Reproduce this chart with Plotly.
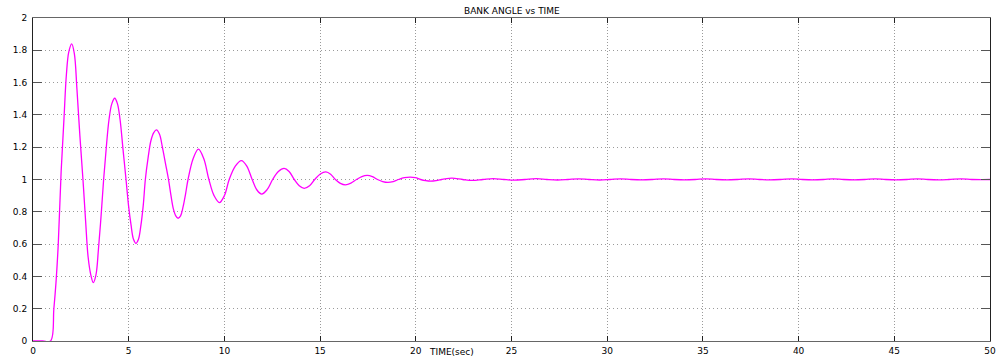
import plotly.graph_objects as go

# Time (sec) and bank angle readings
time_sec = [0, 0.5, 0.92, 1.09, 1.2, 1.32, 1.47, 1.62, 1.745, 1.87, 2.02,
            2.16, 2.295, 2.45, 2.61, 2.75, 2.88, 3.02, 3.15,
            3.29, 3.42, 3.56, 3.69, 3.83, 3.97, 4.12, 4.27,
            4.41, 4.55, 4.70, 4.86, 4.99, 5.12, 5.25, 5.38,
            5.51, 5.63, 5.76, 5.87, 6.02, 6.16, 6.31, 6.45,
            6.61, 6.76, 6.92, 7.08, 7.21, 7.33, 7.46, 7.58,
            7.71, 7.84, 7.97, 8.10, 8.37, 8.64,
            8.92, 9.19, 9.46, 9.74, 10.0, 10.25, 10.57, 10.89,
            11.17, 11.45, 11.7, 11.95, 12.23, 12.52, 12.82, 13.12,
            13.38, 13.65, 13.91, 14.17, 14.45, 14.72, 15.01, 15.30,
            15.55, 15.80, 16.06, 16.32, 16.61, 16.90, 17.18, 17.46,
            17.73, 18.00, 18.27, 18.54, 18.82, 19.10, 19.40, 19.71,
            19.98, 20.25, 20.51, 20.78, 21.06, 21.35, 21.62, 21.90,
            22.45, 22.95, 23.5, 24.05, 24.6, 25.15,
            25.7, 26.3, 26.85, 27.4, 27.95, 28.5, 29.05, 29.6, 30.15, 30.7,
            31.25, 31.8, 32.35, 32.95, 33.5, 34.05, 34.6, 35.15, 35.7, 36.25,
            36.8, 37.4, 37.95, 38.5, 39.05, 39.65, 40.2, 40.75, 41.3, 41.8,
            42.35, 42.9, 43.45, 44.0, 44.55, 45.1, 45.65, 46.2, 46.75, 47.3,
            47.85, 48.5, 49.05, 49.6, 50.0]
bank_angle = [0, 0, 0, 0.2, 0.36, 0.6, 1.05, 1.38, 1.65, 1.79, 1.84,
              1.78, 1.56, 1.27, 1.0, 0.74, 0.52, 0.41, 0.362,
              0.41, 0.57, 0.78, 1.0, 1.2, 1.37, 1.47, 1.503,
              1.47, 1.37, 1.19, 1.0, 0.84, 0.72, 0.63, 0.605,
              0.63, 0.71, 0.84, 1.0, 1.14, 1.24, 1.29, 1.307,
              1.28, 1.2, 1.1, 1.0, 0.9, 0.82, 0.775, 0.76,
              0.775, 0.83, 0.91, 1.0, 1.13, 1.188,
              1.13, 1.0, 0.9, 0.857, 0.9, 1.0, 1.083, 1.117,
              1.083, 1.0, 0.935, 0.91, 0.937, 1.0, 1.05, 1.069,
              1.05, 1.0, 0.961, 0.945, 0.961, 1.0, 1.034, 1.047,
              1.033, 1.0, 0.976, 0.967, 0.977, 1.0, 1.018, 1.025,
              1.018, 1.0, 0.987, 0.982, 0.987, 1.0, 1.011, 1.015,
              1.011, 1.0, 0.993, 0.99, 0.993, 1.0, 1.006, 1.008,
              1.0, 0.994, 1.0, 1.006, 1.0, 0.996,
              1.0, 1.005, 1.0, 0.997, 1.0, 1.004, 1.0, 0.997, 1.0, 1.004,
              1.0, 0.998, 1.0, 1.004, 1.0, 0.998, 1.0, 1.004, 1.0, 0.998,
              1.0, 1.004, 1.0, 0.998, 1.0, 1.004, 1.0, 0.998, 1.0, 1.004,
              1.0, 0.998, 1.0, 1.004, 1.0, 0.998, 1.0, 1.004, 1.0, 0.998,
              1.0, 1.004, 1.0, 0.999, 1.0]

x_ticks = [0, 5, 10, 15, 20, 25, 30, 35, 40, 45, 50]
y_ticks = [0, 0.2, 0.4, 0.6, 0.8, 1, 1.2, 1.4, 1.6, 1.8, 2]
y_tick_text = ["0", "0.2", "0.4", "0.6", "0.8", "1", "1.2", "1.4", "1.6", "1.8", "2"]

title_text = "BANK ANGLE vs TIME"
x_title = "TIME(sec)"

font_family = "DejaVu Sans"

fig = go.Figure()
fig.add_trace(go.Scatter(
    x=time_sec, y=bank_angle, mode="lines",
    line=dict(color="#ff00ff", width=1.3, shape="spline", smoothing=1.0),
    showlegend=False, hoverinfo="skip"))

fig.update_layout(
    width=1002, height=362,
    margin=dict(l=33, r=6, t=18, b=18),
    paper_bgcolor="white", plot_bgcolor="white",
    font=dict(family=font_family, size=9, color="black"),
    showlegend=False,
)
fig.update_xaxes(
    range=[0, 50], tickvals=x_ticks, ticktext=[str(v) for v in x_ticks],
    ticks="inside", ticklen=5, tickcolor="#222", tickwidth=1,
    showline=True, linecolor="#666", linewidth=1, mirror="ticks",
    showgrid=True, gridcolor="#9a9a9a", griddash="1px,2px", gridwidth=1,
    zeroline=False, tickfont=dict(size=9, family=font_family), ticklabelstandoff=1,
)
fig.update_yaxes(
    range=[0, 2], tickvals=y_ticks, ticktext=y_tick_text,
    ticks="inside", ticklen=9, tickcolor="#555", tickwidth=1,
    showline=True, linecolor="#222", linewidth=1, mirror="ticks",
    showgrid=True, gridcolor="#9a9a9a", griddash="1px,3px", gridwidth=1,
    zeroline=False, tickfont=dict(size=9, family=font_family), ticklabelstandoff=3,
)

fig.add_annotation(text=title_text, xref="paper", yref="paper", x=0.5, y=1,
                   yshift=7, xanchor="center", yanchor="middle", showarrow=False,
                   font=dict(size=9, family=font_family, color="black"))
fig.add_annotation(text=x_title, xref="paper", yref="paper", x=0.437, y=0,
                   yshift=-11, xanchor="center", yanchor="middle", showarrow=False,
                   font=dict(size=9, family=font_family, color="black"))

fig.write_html("out.html")
